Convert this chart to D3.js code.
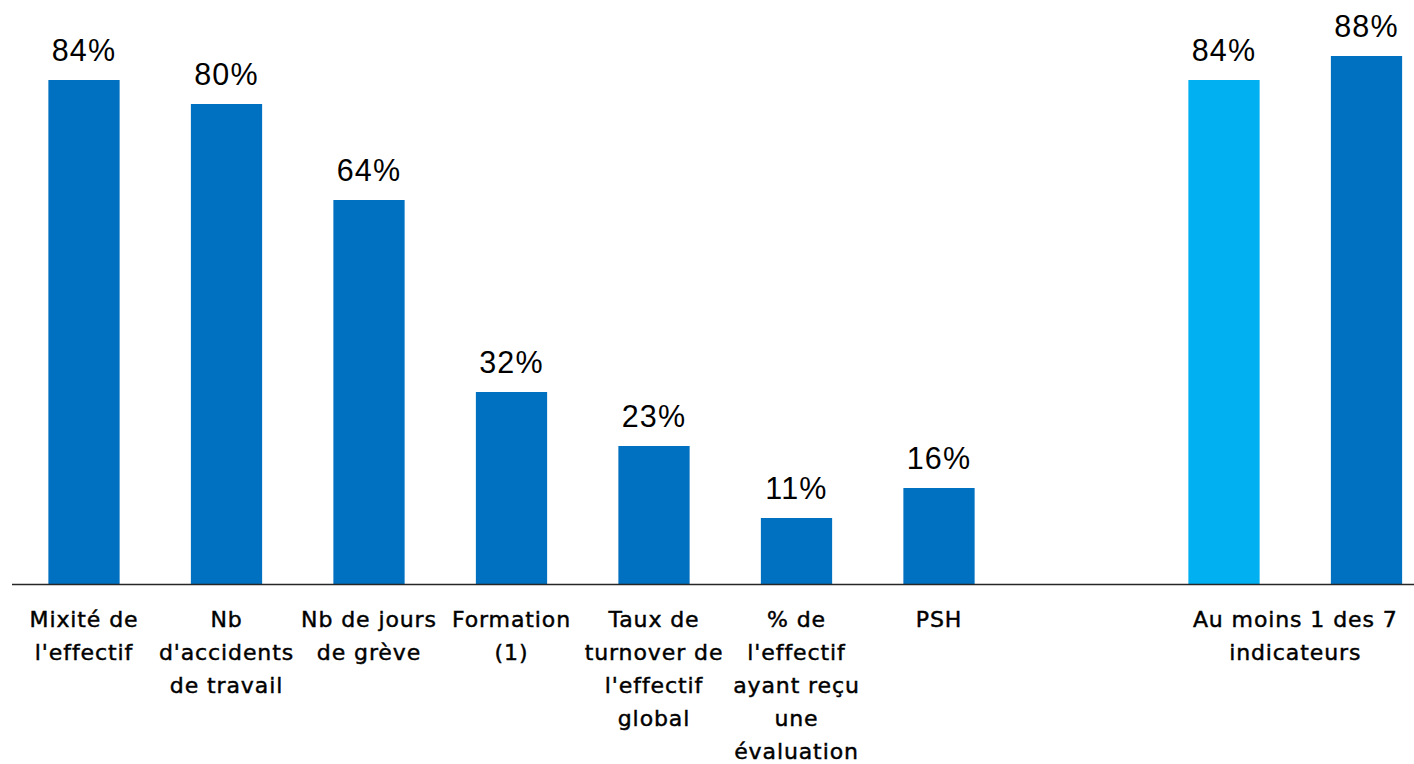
<!DOCTYPE html>
<html>
<head>
<meta charset="utf-8">
<script src="https://cdn.jsdelivr.net/npm/d3@7"></script>
<style>
  html, body { margin: 0; padding: 0; background: #fff; }
  svg { display: block; }
</style>
</head>
<body>
<svg id="chart" width="1414" height="764"></svg>
<script>
// Category labels (line breaks as drawn); the empty slot separates the summary bar pair
const categories = [
  "Mixité de\nl'effectif",
  "Nb\nd'accidents\nde travail",
  "Nb de jours\nde grève",
  "Formation\n(1)",
  "Taux de\nturnover de\nl'effectif\nglobal",
  "% de\nl'effectif\nayant reçu\nune\névaluation",
  "PSH",
  "",
  "Au moins 1 des 7\nindicateurs",
  ""
];
const values = [84, 80, 64, 32, 23, 11, 16, null, 84, 88];
const barColors = ["#0070C0", "#0070C0", "#0070C0", "#0070C0", "#0070C0", "#0070C0", "#0070C0", null, "#00B0F0", "#0070C0"];
// Summary label is centred between the two summary bars
const labelSlots = [0, 1, 2, 3, 4, 5, 6, 7, 8.5, 9];

const svg = d3.select("#chart");
const baseline = 584;
const x = d3.scaleBand()
  .domain(d3.range(categories.length))
  .range([12.75, 1437.75])
  .paddingInner(0.5)
  .paddingOuter(0.25);
const y = d3.scaleLinear().domain([0, 100]).range([baseline, baseline - 600]);

const idx = d3.range(categories.length).filter(i => values[i] !== null);

svg.append("g").selectAll("rect")
  .data(idx)
  .join("rect")
  .attr("x", i => x(i))
  .attr("width", x.bandwidth())
  .attr("y", i => y(values[i]))
  .attr("height", i => y(0) - y(values[i]))
  .attr("fill", i => barColors[i]);

svg.append("g").selectAll("text")
  .data(idx)
  .join("text")
  .attr("x", i => x(i) + x.bandwidth() / 2)
  .attr("y", i => y(values[i]) - 19)
  .attr("text-anchor", "middle")
  .style("font-family", "'Liberation Sans', Arial, sans-serif")
  .style("font-size", "30.5px")
  .style("letter-spacing", "1.2px")
  .style("fill", "#000")
  .text(i => values[i] + "%");

// Axis baseline
svg.append("line")
  .attr("x1", 12).attr("x2", 1414)
  .attr("y1", baseline + 0.5).attr("y2", baseline + 0.5)
  .attr("stroke", "#262626")
  .attr("stroke-width", 1.6);

const step = x.step();
const center = s => x(0) + x.bandwidth() / 2 + s * step;

const labels = svg.append("g")
  .style("font-family", "'DejaVu Sans', sans-serif")
  .style("font-size", "22px")
  .style("letter-spacing", "0.9px")
  .style("fill", "#000")
  .style("stroke", "#000")
  .style("stroke-width", "0.45px");

categories.forEach((c, i) => {
  if (!c) return;
  const t = labels.append("text")
    .attr("x", center(labelSlots[i]))
    .attr("y", 627)
    .attr("text-anchor", "middle");
  c.split("\n").forEach((line, k) => {
    t.append("tspan")
      .attr("x", center(labelSlots[i]))
      .attr("dy", k === 0 ? 0 : 33)
      .text(line);
  });
});
</script>
</body>
</html>
